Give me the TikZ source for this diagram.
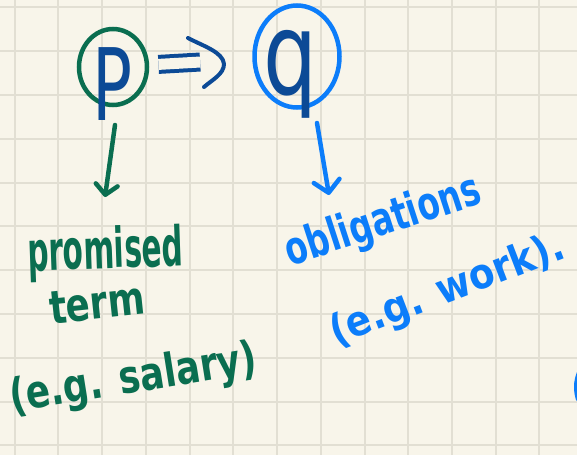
\documentclass[tikz,border=0pt]{standalone}
\usepackage{fontspec}
\usetikzlibrary{shapes.geometric,arrows.meta}
\newfontfamily\hand{DejaVu Sans Condensed}[BoldFont={DejaVu Sans Condensed Bold}]
\definecolor{paper}{RGB}{248,245,234}
\definecolor{gridc}{RGB}{226,223,211}
\definecolor{inkgreen}{RGB}{10,110,80}
\definecolor{inkdark}{RGB}{12,74,150}
\definecolor{inkblue}{RGB}{12,125,250}
\newcommand\hw[3]{\resizebox{#1}{\height}{\fontsize{#2}{#2}\selectfont\hand\bfseries #3}}
\begin{document}
\begin{tikzpicture}[x=1pt,y=-1pt,
  txt/.style={inner sep=0pt, outer sep=0pt},
  ring/.style={ellipse, draw, line width=4.5pt, inner sep=0pt},
  pen/.style={line width=4.5pt, line cap=round, line join=round},
  gridline/.style={draw=gridc, line width=2pt}]
\fill[paper] (0,0) rectangle (577,455);
\useasboundingbox (0,0) rectangle (577,455);
\foreach \k in {0,...,12} \draw[gridline] ({14.7+43.73*\k},0) -- ({14.7+43.73*\k},455);
\foreach \k in {0,...,10} \draw[gridline] (0,{7.3+43.8*\k}) -- (577,{7.3+43.8*\k});

% circles
\node[ring, draw=inkgreen, minimum width=68pt, minimum height=76pt] (pc) at (113,67) {};
\node[ring, draw=inkblue, minimum width=85pt, minimum height=102pt] (qc) at (297,56.5) {};
% letters
\node[txt, text=inkdark, anchor=base] (pl) at (112,120) {\resizebox{40pt}{\height}{\fontsize{100}{100}\selectfont\hand P}};
\node[txt, text=inkdark, anchor=north] (ql) at (290,30) {\resizebox*{54pt}{88pt}{\fontsize{90}{90}\selectfont\hand q}};

% implies: double shaft from p to q, then the open head
\draw[draw=inkdark, line width=4pt, double=paper, double distance=11pt, line cap=butt,
  shorten <=51pt, shorten >=94pt] (pc) -- (qc);
\coordinate (imptip) at (224,64);
\draw[pen, inkdark, line width=4pt] (188,38) .. controls (203,46) and (223,52) .. (imptip)
  .. controls (224,74) and (212,80) .. (204,87);

% texts
\node[txt, text=inkgreen, rotate=2, anchor=base west] (promised) at (28,271) {\hw{156pt}{55}{promised}};
\node[txt, text=inkgreen, rotate=6, anchor=base west] (term) at (51,324) {\hw{96pt}{46}{term}};
\node[txt, text=inkgreen, rotate=9, anchor=base west] (salary) at (12,412) {\hw{250pt}{46}{(e.g. salary)}};
\node[txt, text=inkblue, rotate=18, anchor=base west] (oblig) at (290,266) {\hw{204pt}{46}{obligations}};
\node[txt, text=inkblue, rotate=21, anchor=base west] (work) at (336,346) {\hw{248pt}{42}{(e.g. work).}};

% down arrows
\coordinate (g1) at (115,125); \coordinate (g2) at (105,197);
\draw[pen, inkgreen, -{Straight Barb[length=10pt,width=22pt,round]}] (g1) -- (g2);
\coordinate (b1) at (317,123); \coordinate (b2) at (329,195);
\draw[pen, inkblue, -{Straight Barb[length=12pt,width=26pt,round]}] (b1) -- (b2);

% clipped bracket at right edge
\draw[pen, inkblue] (579,373) .. controls (575.5,382) and (575.5,390) .. (578,399);
\end{tikzpicture}
\end{document}
